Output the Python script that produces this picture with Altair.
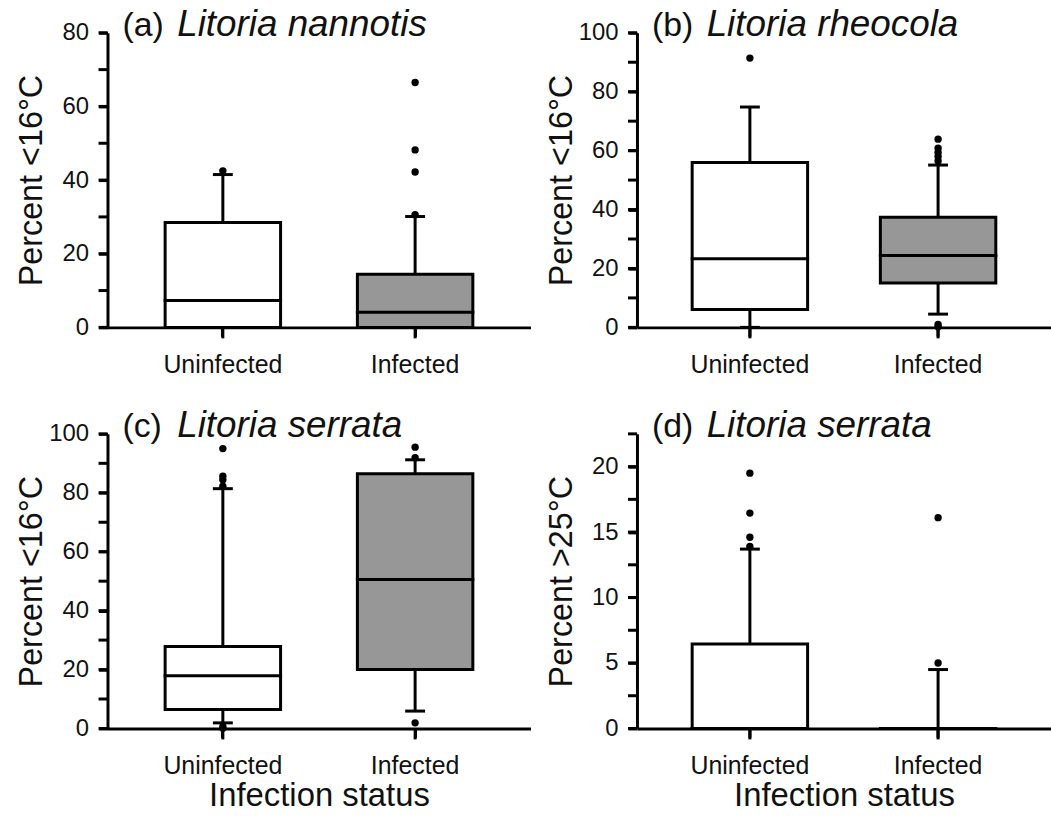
import altair as alt
import pandas as pd

# ---------------- data ----------------
categories = ["Uninfected", "Infected"]

panel_letters = ["(a)", "(b)", "(c)", "(d)"]
panel_species = ["Litoria nannotis", "Litoria rheocola", "Litoria serrata", "Litoria serrata"]
y_titles = ["Percent <16°C", "Percent <16°C", "Percent <16°C", "Percent >25°C"]
y_max = [80, 100, 100, 22.5]
y_minor_step = [10, 10, 10, 2.5]
y_label_step = [20, 20, 20, 5]

# box statistics per panel: [Uninfected, Infected]
a_q1 = [0.0, 0.0]
a_med = [7.3, 4.1]
a_q3 = [28.5, 14.4]
a_lo = [0.0, 0.0]
a_hi = [41.5, 30.1]
a_out_unf = [42.5]
a_out_inf = [66.5, 48.2, 42.2, 30.6]

b_q1 = [6.1, 15.1]
b_med = [23.3, 24.4]
b_q3 = [56.0, 37.4]
b_lo = [0.0, 4.5]
b_hi = [74.8, 55.1]
b_out_unf = [91.4]
b_out_inf = [63.9, 60.8, 59.4, 58.0, 56.5, 1.0, 0.2]

c_q1 = [6.4, 20.0]
c_med = [17.9, 50.6]
c_q3 = [27.8, 86.5]
c_lo = [1.9, 5.9]
c_hi = [81.4, 91.2]
c_out_unf = [95.0, 85.6, 84.4, 82.2, 0.6, 0.1]
c_out_inf = [95.5, 91.9, 1.9]

d_q1 = [0.0, 0.0]
d_med = [0.0, 0.0]
d_q3 = [6.46, 0.0]
d_lo = [0.0, 0.0]
d_hi = [13.7, 4.5]
d_out_unf = [19.5, 16.45, 14.6, 13.9]
d_out_inf = [16.1, 5.0]

box_fills = ["#ffffff", "#979797"]

FONT = "Liberation Sans"
LW = 3
BOX_W = 116
H = 296
TICK = 9


def panel(idx, q1, med, q3, lo, hi, out_unf, out_inf, width, show_xtitle):
    stats = pd.DataFrame({"cat": categories, "q1": q1, "med": med, "q3": q3,
                          "lo": lo, "hi": hi})
    outl = pd.DataFrame({"cat": ["Uninfected"] * len(out_unf) + ["Infected"] * len(out_inf),
                         "v": list(out_unf) + list(out_inf)})
    ymax = y_max[idx]
    step = y_minor_step[idx]
    n = int(round(ymax / step))
    tick_vals = [round(i * step, 3) for i in range(n + 1)]
    lab = y_label_step[idx]
    ticks_df = pd.DataFrame({"t": tick_vals})

    xscale = alt.Scale(domain=categories, paddingInner=0, paddingOuter=0.1)
    xenc = alt.X("cat:N", sort=categories, scale=xscale,
                 axis=alt.Axis(labelAngle=0, labelFont=FONT, labelFontSize=25, labelColor="#111",
                               labelPadding=16, tickSize=TICK, tickWidth=LW, tickColor="black",
                               domainWidth=LW, domainColor="black",
                               titleFont=FONT, titleFontSize=33, titleFontWeight="normal",
                               titleColor="#111", titlePadding=1),
                 title="Infection status" if show_xtitle else None)
    yscale = alt.Scale(domain=[0, ymax], nice=False, zero=True)
    yaxis = alt.Axis(values=tick_vals,
                     labelExpr=f"abs(datum.value % {lab}) < 0.001 ? datum.label : ''",
                     labelFont=FONT, labelFontSize=24, labelColor="#111", labelPadding=10,
                     tickSize=TICK, tickWidth=LW, tickColor="black",
                     domainWidth=LW, domainColor="black", grid=False,
                     titleFont=FONT, titleFontSize=32.5, titleFontWeight="normal",
                     titleColor="#111", titleX=-66, titleBaseline="alphabetic")

    base = alt.Chart(stats)
    whisk_lo = base.mark_rule(strokeWidth=LW, color="black").encode(
        x=xenc, y=alt.Y("lo:Q", scale=yscale, axis=yaxis, title=y_titles[idx]), y2="q1:Q")
    whisk_hi = base.mark_rule(strokeWidth=LW, color="black").encode(
        x=xenc, y=alt.Y("q3:Q"), y2="hi:Q")
    cap_hi = base.mark_tick(size=20, thickness=LW, color="black", opacity=1).encode(
        x=xenc, y=alt.Y("hi:Q"))
    cap_lo = base.mark_tick(size=20, thickness=LW, color="black", opacity=1).encode(
        x=xenc, y=alt.Y("lo:Q"))
    box = base.mark_bar(size=BOX_W, stroke="black", strokeWidth=LW, opacity=1).encode(
        x=xenc, y=alt.Y("q1:Q"), y2="q3:Q",
        color=alt.Color("cat:N", scale=alt.Scale(domain=categories, range=box_fills), legend=None))
    median = base.mark_tick(size=BOX_W + LW, thickness=LW, color="black", opacity=1).encode(
        x=xenc, y=alt.Y("med:Q"))
    pts = alt.Chart(outl).mark_circle(size=55, color="black", opacity=1).encode(
        x=xenc, y=alt.Y("v:Q"))

    # explicit axis tick marks (major and minor, and category ticks below the x axis)
    yticks = alt.Chart(ticks_df).mark_rule(strokeWidth=LW, color="black").encode(
        y=alt.Y("t:Q"), x=alt.value(-TICK), x2=alt.value(0))
    xticks = base.mark_tick(orient="vertical", size=11, thickness=LW, color="black",
                            opacity=1).encode(
        x=xenc, y=alt.value(H + 5.5))

    tdf = pd.DataFrame({"letter": [panel_letters[idx]], "species": [panel_species[idx]]})
    t1 = alt.Chart(tdf).mark_text(font=FONT, fontSize=34, align="left", baseline="alphabetic",
                                  color="#111").encode(
        x=alt.value(15), y=alt.value(3), text="letter:N")
    t2 = alt.Chart(tdf).mark_text(font=FONT, fontSize=37, fontStyle="italic", align="left",
                                  baseline="alphabetic", color="#111").encode(
        x=alt.value(70), y=alt.value(3), text="species:N")

    return alt.layer(whisk_lo, whisk_hi, cap_hi, cap_lo, box, median, pts,
                     yticks, xticks, t1, t2).properties(width=width, height=H)


pa = panel(0, a_q1, a_med, a_q3, a_lo, a_hi, a_out_unf, a_out_inf, 425, False)
pb = panel(1, b_q1, b_med, b_q3, b_lo, b_hi, b_out_unf, b_out_inf, 416, False)
pc = panel(2, c_q1, c_med, c_q3, c_lo, c_hi, c_out_unf, c_out_inf, 425, True)
pd_ = panel(3, d_q1, d_med, d_q3, d_lo, d_hi, d_out_unf, d_out_inf, 416, True)

chart = alt.vconcat(
    alt.hconcat(pa, pb, spacing=14),
    alt.hconcat(pc, pd_, spacing=14),
    spacing=30,
).properties(
    padding={"left": 15, "top": 4, "right": 0, "bottom": 0},
    background="white",
).configure_view(stroke=None).configure_concat(spacing=14)

chart.save("out.html", embed_options={"renderer": "svg", "actions": False})
